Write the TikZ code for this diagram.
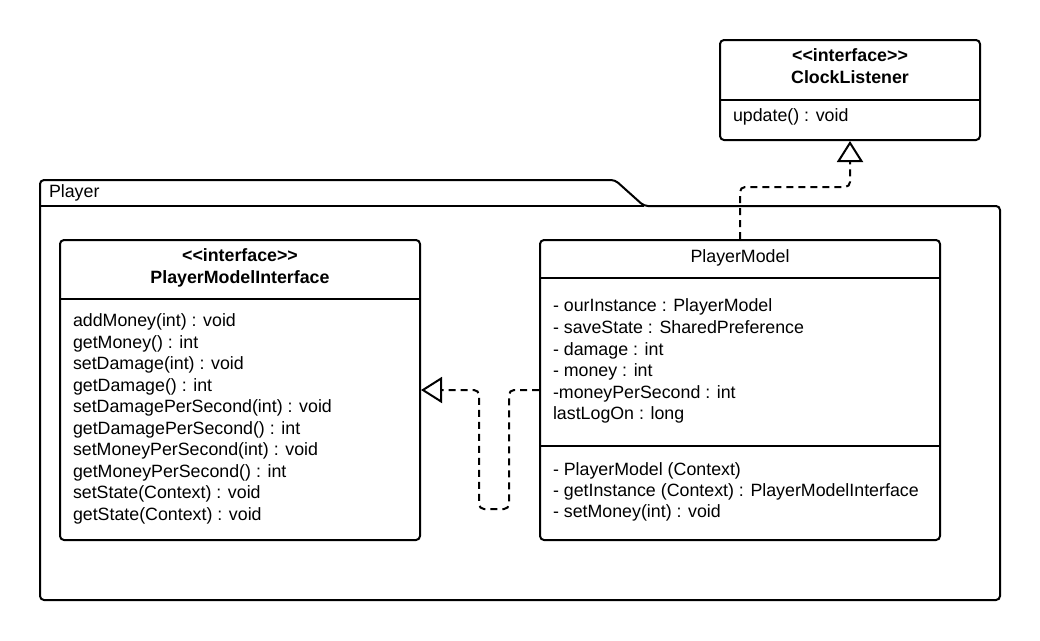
\documentclass[tikz,border=0pt]{standalone}
\usepackage{fontspec}
\setmainfont{Liberation Sans}
\usetikzlibrary{arrows.meta}
\begin{document}
\begin{tikzpicture}[x=1pt,y=-1pt,
  line width=2pt,
  umlbox/.style={draw, rounded corners=4pt, inner sep=0pt, line width=2pt},
  txt/.style={inner sep=0pt, anchor=base west, font=\fontsize{17.8}{21.5}\selectfont},
  ttl/.style={inner sep=0pt, anchor=base, font=\fontsize{17.8}{21.5}\selectfont\bfseries},
  real/.style={line width=2pt, dash pattern=on 7pt off 5pt, rounded corners=5pt,
    -{Triangle[open, length=21pt, width=26pt, line width=2pt]}}]
\useasboundingbox (0,0) rectangle (1040,640);
\fill[white] (0,0) rectangle (1040,640);
% package
\draw[rounded corners=4pt] (40,206) -- (40,180) -- (615,180) -- (644,206) -- (1000,206) -- (1000,600) -- (40,600) -- cycle;
\draw (40,206) -- (644,206);
\node[txt] (pkg) at (48,197) {Player};
% ClockListener
\node[umlbox, minimum width=260pt, minimum height=100pt] (cl) at (850,90) {};
\draw (720,100) -- (980,100);
\node[ttl] (cl1) at (850,61.7) {<{}<interface>{}>};
\node[ttl] (cl2) at (850,83.3) {ClockListener};
\node[txt] (cl3) at (732,121.7) {update() : void};
% PlayerModelInterface
\node[umlbox, minimum width=360pt, minimum height=300pt] (pmi) at (240,390) {};
\draw (60,299) -- (420,299);
\node[ttl] (pmi1) at (240,261.7) {<{}<interface>{}>};
\node[ttl] (pmi2) at (240,283.3) {PlayerModelInterface};
\foreach \t [count=\i from 0] in {addMoney(int) : void, getMoney() : int, setDamage(int) : void, getDamage() : int, setDamagePerSecond(int) : void, getDamagePerSecond() : int, setMoneyPerSecond(int) : void, getMoneyPerSecond() : int, setState(Context) : void, getState(Context) : void}
  \node[txt] (pmim\i) at (72,326.7+21.5*\i) {\t};
% PlayerModel
\node[umlbox, minimum width=400pt, minimum height=300pt] (pm) at (740,390) {};
\draw (540,278) -- (940,278);
\draw (540,445.5) -- (940,445.5);
\node[inner sep=0pt, anchor=base, font=\fontsize{17.8}{21.5}\selectfont] (pmt) at (740,262.7) {PlayerModel};
\foreach \t [count=\i from 0] in {- ourInstance : PlayerModel, - saveState : SharedPreference, - damage : int, - money : int, -moneyPerSecond : int, lastLogOn : long}
  \node[txt] (pma\i) at (552,311.7+21.65*\i) {\t};
\foreach \t [count=\i from 0] in {- PlayerModel (Context), - getInstance (Context) : PlayerModelInterface, - setMoney(int) : void}
  \node[txt] (pmo\i) at (552,475+21.4*\i) {\t};
% realizations
\draw[real] (pm.north) -- ++(0,-52) -| (cl.south);
\draw[real] (pm.west) -- ++(-30,0) -- ++(0,119) -- ++(-30,0) -- ++(0,-119) -- (pmi.east);
\end{tikzpicture}
\end{document}
